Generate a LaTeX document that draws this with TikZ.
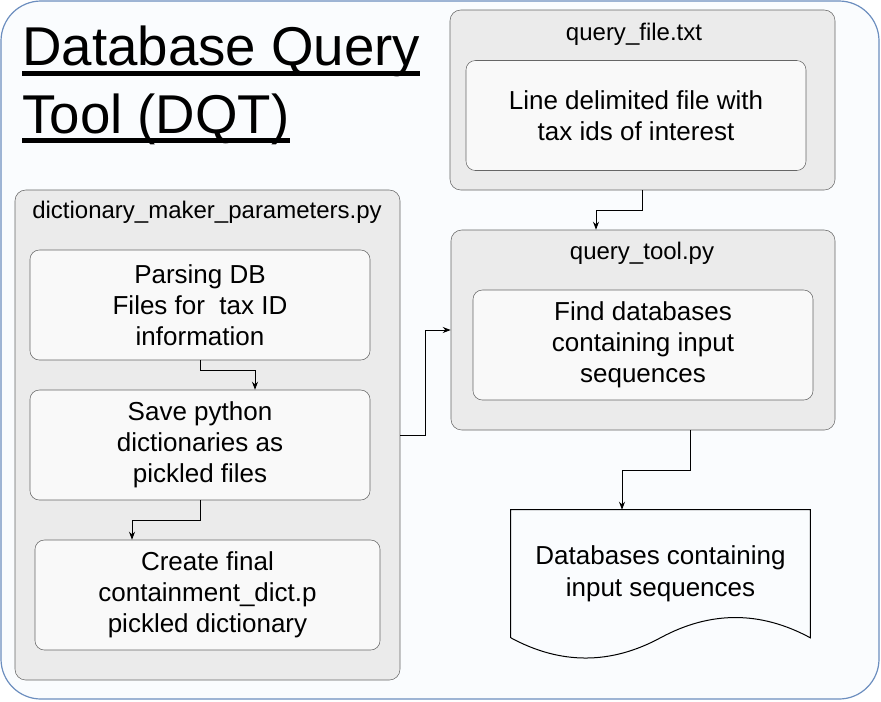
\documentclass[tikz,border=0pt]{standalone}
\usepackage{fontspec}
\setmainfont{Liberation Sans}
\usepackage{tikz}
\usetikzlibrary{arrows.meta, positioning, calc}
\usepackage{xcolor}

\definecolor{frameblue}{RGB}{108,142,191}
\definecolor{framefill}{RGB}{250,252,254}
\definecolor{boxgray}{RGB}{102,102,102}
\definecolor{boxfill}{RGB}{235,235,235}
\definecolor{taskfill}{RGB}{249,249,249}

\newsavebox{\titlebox}
\newcommand{\titleline}[1]{\sbox{\titlebox}{#1}\rlap{\rule[-7.5pt]{\wd\titlebox}{3.5pt}}\usebox{\titlebox}}

\begin{document}
\begin{tikzpicture}[
        x=0.75pt, y=-0.75pt,
        frame/.style={
          draw=frameblue,
          fill=framefill,
          line width=0.9pt,
          rounded corners=30pt
        },
        container/.style={
          draw=boxgray,
          fill=boxfill,
          rectangle,
          rounded corners=8pt,
          inner sep=0pt,
          minimum width=288.75pt
        },
        boxtitle/.style={
          inner sep=0pt,
          font=\fontsize{18}{21.6}\selectfont
        },
        task/.style={
          draw=boxgray,
          fill=taskfill,
          rectangle,
          rounded corners=7pt,
          minimum width=255pt,
          minimum height=82.5pt,
          align=center,
          font=\fontsize{19.5}{23.3}\selectfont
        },
        arrow/.style={-{Stealth[length=6pt, width=4.5pt]}, line width=0.75pt}
      ]

      \useasboundingbox (0,0) rectangle (881,701);

      % Outer frame
      \draw[frame] (1,1) rectangle (879,699);

      % Title
      \node[anchor=base west, align=left, inner sep=0pt,
            font=\fontsize{41}{50.5}\selectfont] (title) at (22,133)
            {\titleline{Database Query}\\\titleline{Tool (DQT)}};

      % Containers
      \node[container, minimum height=135pt] (qfile) at (642.5,100) {};
      \node[boxtitle] (qfilelabel) at (634,34) {query\_file.txt};

      \node[container, minimum width=288pt, minimum height=150pt] (qtool) at (643,330) {};
      \node[boxtitle] (qtoollabel) at (642,253) {query\_tool.py};

      \node[container, minimum height=367.5pt] (dict) at (207.5,435) {};
      \node[boxtitle] (dictlabel) at (207,212) {dictionary\_maker\_parameters.py};

      % Inner steps
      \node[task] (ids) at (636,115.5) {Line delimited file with\\tax ids of interest};
      \node[task] (find) at (643,345) {Find databases\\containing input\\sequences};

      \node[task] (parse) at (200,305) {Parsing DB\\Files for\ \ tax ID\\information};
      \node[task] (save) at (200,445) {Save python\\dictionaries as\\pickled files};
      \node[task, minimum width=258.75pt] (create) at (207.5,595) {Create final\\containment\_dict.p\\pickled dictionary};

      % Output document
      \node[minimum width=224.25pt, minimum height=95.625pt, inner sep=0pt, align=center,
            font=\fontsize{19.5}{23.3}\selectfont] (result) at (660.5,573.75)
            {Databases containing\\input sequences};
      \draw[line width=0.75pt] (result.south west) -- (result.north west) -- (result.north east)
        -- (result.south east) .. controls +(-49.83,-27) and +(49.83,-27) .. (result.south)
        .. controls +(-49.83,27) and +(49.83,27) .. (result.south west);

      % Connections
      \draw[arrow] (qfile.south) -- ++(0,20) -| ($(qtool.north)+(-47,0)$);
      \draw[arrow] (dict.east) -- ++(25.5,0) |- (qtool.west);
      \draw[arrow] ($(qtool.south)+(47,0)$) -- ++(0,40) -| ($(result.north)+(-38.5,0)$);
      \draw[arrow] (parse.south) -- ++(0,10) -| ($(save.north)+(55,0)$);
      \draw[arrow] (save.south) -- ++(0,20) -| ($(create.north)+(-75.5,0)$);

    \end{tikzpicture}
\end{document}
